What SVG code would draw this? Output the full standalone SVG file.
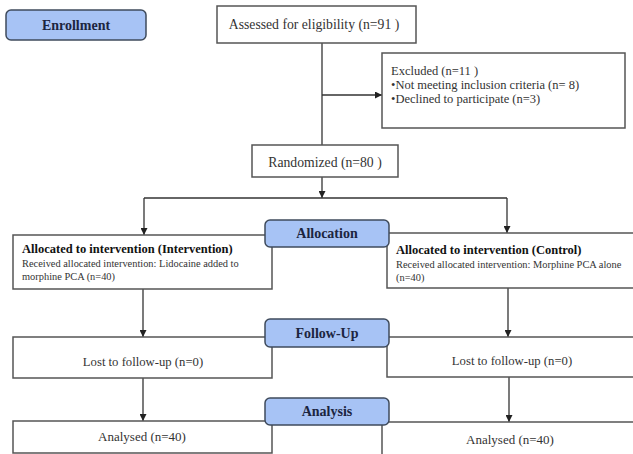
<svg xmlns="http://www.w3.org/2000/svg" width="633" height="454" viewBox="0 0 633 454">
<defs>
<marker id="ah" viewBox="0 0 10 10" refX="10" refY="5" markerWidth="7" markerHeight="7" markerUnits="userSpaceOnUse" orient="auto">
<path d="M0,0 L10,5 L0,10 z" fill="#222"/>
</marker>
<style>
text{font-family:'Liberation Serif','Times New Roman',Tinos,'DejaVu Serif',serif}
.box{fill:#fff;stroke:#555;stroke-width:1.5}
.lab{fill:#a7c3f5;stroke:#3f4b5c;stroke-width:1.5}
.lt{font-weight:bold;font-size:14px;fill:#1c2540;text-anchor:middle}
.t{font-size:13px;fill:#333}
.big{font-size:13.7px}
.ex{font-size:12.5px}
.lo{font-size:12.7px}
.c{text-anchor:middle}
.b{font-weight:bold;font-size:12.5px;fill:#111}
.s{font-size:10.4px;fill:#333}
.ln{fill:none;stroke:#333;stroke-width:1.3}
</style>
</defs>
<rect width="633" height="454" fill="#fff"/>
<g id="connectors">
<line class="ln" x1="322" y1="43" x2="322" y2="145"/>
<line class="ln" x1="322" y1="95" x2="382" y2="95" marker-end="url(#ah)"/>
<line class="ln" x1="322" y1="177" x2="322" y2="198" marker-end="url(#ah)"/>
<line class="ln" x1="144" y1="198" x2="507" y2="198"/>
<line class="ln" x1="144" y1="198" x2="144" y2="235" marker-end="url(#ah)"/>
<line class="ln" x1="507" y1="198" x2="507" y2="233" marker-end="url(#ah)"/>
<line class="ln" x1="143" y1="289" x2="143" y2="337" marker-end="url(#ah)"/>
<line class="ln" x1="508" y1="288" x2="508" y2="337" marker-end="url(#ah)"/>
<line class="ln" x1="143" y1="378" x2="143" y2="421" marker-end="url(#ah)"/>
<line class="ln" x1="509" y1="377" x2="509" y2="422" marker-end="url(#ah)"/>
</g>
<g id="enrollment">
<rect class="lab" x="6" y="10" width="140" height="30" rx="5"/>
<text class="lt" x="76" y="30">Enrollment</text>
</g>
<g id="assessed">
<rect class="box" x="217" y="6" width="199" height="37"/>
<text class="t big c" x="314" y="29">Assessed for eligibility (n=91 )</text>
</g>
<g id="excluded">
<rect class="box" x="382" y="53" width="243" height="75"/>
<text class="t ex" x="391" y="75">Excluded  (n=11 )</text>
<text class="t ex" x="391" y="89">•Not meeting inclusion criteria (n= 8)</text>
<text class="t ex" x="391" y="103">•Declined to participate (n=3)</text>
</g>
<g id="randomized">
<rect class="box" x="252" y="145" width="146" height="32"/>
<text class="t big c" x="325" y="167">Randomized (n=80  )</text>
</g>
<g id="alloc-left">
<rect class="box" x="13" y="235" width="259" height="54"/>
<text class="b" x="22" y="253">Allocated to intervention (Intervention)</text>
<text class="s" x="22" y="267">Received allocated intervention: Lidocaine added to</text>
<text class="s" x="22" y="280">morphine PCA (n=40)</text>
</g>
<g id="alloc-right">
<rect class="box" x="387" y="233" width="253" height="55"/>
<text class="b" x="396" y="254">Allocated to intervention (Control)</text>
<text class="s" x="396" y="268">Received allocated intervention: Morphine PCA alone</text>
<text class="s" x="396" y="281">(n=40)</text>
</g>
<g id="follow-left">
<rect class="box" x="13" y="337" width="259" height="41"/>
<text class="t lo c" x="143" y="366">Lost to follow-up (n=0)</text>
</g>
<g id="follow-right">
<rect class="box" x="387" y="337" width="253" height="40"/>
<text class="t lo c" x="512" y="365">Lost to follow-up (n=0)</text>
</g>
<g id="analysis-left">
<rect class="box" x="13" y="421" width="259" height="32"/>
<text class="t c" x="142" y="441">Analysed  (n=40)</text>
</g>
<g id="analysis-right">
<rect class="box" x="382" y="422" width="258" height="40"/>
<text class="t c" x="510" y="444">Analysed  (n=40)</text>
</g>
<g id="allocation">
<rect class="lab" x="265" y="220" width="124" height="27" rx="5"/>
<text class="lt" x="327" y="238">Allocation</text>
</g>
<g id="followup">
<rect class="lab" x="265" y="319" width="124" height="28" rx="5"/>
<text class="lt" x="327" y="338">Follow-Up</text>
</g>
<g id="analysis">
<rect class="lab" x="265" y="398" width="124" height="27" rx="5"/>
<text class="lt" x="327" y="416">Analysis</text>
</g>
</svg>
